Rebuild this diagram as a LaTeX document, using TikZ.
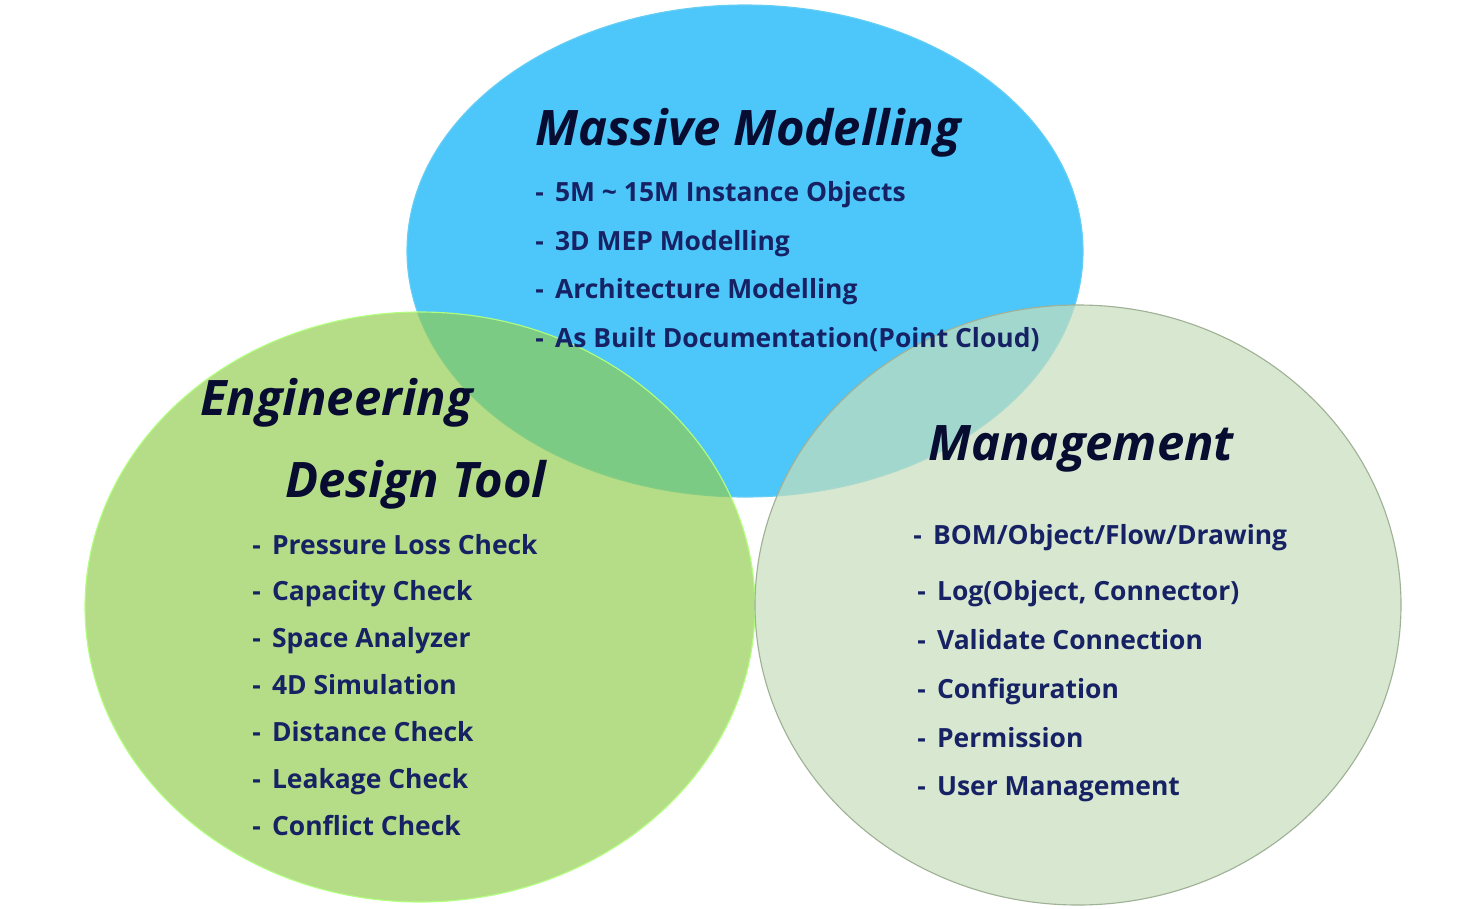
\documentclass[tikz,border=0pt]{standalone}
\usepackage{fontspec}
\setmainfont{Open Sans}
\usepackage{tikz}

\definecolor{mmblue}{RGB}{77,199,250}
\definecolor{edgreen}{RGB}{146,205,78}
\definecolor{mggreen}{RGB}{199,222,188}
\definecolor{itemnavy}{RGB}{22,34,100}
\definecolor{titleink}{RGB}{8,12,48}

\tikzset{
    item/.style={anchor=base west, inner sep=0pt, text=itemnavy,
        font=\fontsize{18.8}{21}\selectfont\bfseries},
    title/.style={anchor=base west, inner sep=0pt, text=titleink,
        font=\fontsize{34.8}{38}\selectfont\bfseries\itshape}
}

\begin{document}
\begin{tikzpicture}[x=0.025cm, y=-0.025cm]
    \useasboundingbox (0,0) rectangle (1471,908);

    % circles, the two lower ones see-through over the blue one
    \fill[mmblue] (745,251) ellipse (338 and 246);
    \draw[cyan!60!white, line width=0.8pt] (745,251) ellipse (338 and 246);
    \fill[edgreen, opacity=0.68] (420,607) ellipse (335 and 295);
    \draw[green!60!yellow!50!white, line width=0.8pt] (420,607) ellipse (335 and 295);
    \fill[mggreen, opacity=0.7] (1078,605) ellipse (323 and 300);
    \draw[black!20!mggreen, line width=0.8pt] (1078,605) ellipse (323 and 300);

    % Massive Modelling
    \node[title] (mmtitle) at (535,145) {Massive Modelling};
    \node[item] (mm1) at (535,201) {-\, 5M \textasciitilde{} 15M Instance Objects};
    \node[item] (mm2) at (535,250) {-\, 3D MEP Modelling};
    \node[item] (mm3) at (535,298) {-\, Architecture Modelling};
    \node[item] (mm4) at (535,347) {-\, As Built Documentation(Point Cloud)};

    % Engineering Design Tool
    \node[title] (edtitle1) at (200,415) {Engineering};
    \node[title] (edtitle2) at (285,497) {Design Tool};
    \node[item] (ed1) at (252,554) {-\, Pressure Loss Check};
    \node[item] (ed2) at (252,600) {-\, Capacity Check};
    \node[item] (ed3) at (252,647) {-\, Space Analyzer};
    \node[item] (ed4) at (252,694) {-\, 4D Simulation};
    \node[item] (ed5) at (252,741) {-\, Distance Check};
    \node[item] (ed6) at (252,788) {-\, Leakage Check};
    \node[item] (ed7) at (252,835) {-\, Conflict Check};

    % Management
    \node[title] (mgtitle) at (928,460) {Management};
    \node[item] (mg1) at (913,544) {-\, BOM/Object/Flow/Drawing};
    \node[item] (mg2) at (917,600) {-\, Log(Object, Connector)};
    \node[item] (mg3) at (917,649) {-\, Validate Connection};
    \node[item] (mg4) at (917,698) {-\, Configuration};
    \node[item] (mg5) at (917,747) {-\, Permission};
    \node[item] (mg6) at (917,795) {-\, User Management};
\end{tikzpicture}
\end{document}
